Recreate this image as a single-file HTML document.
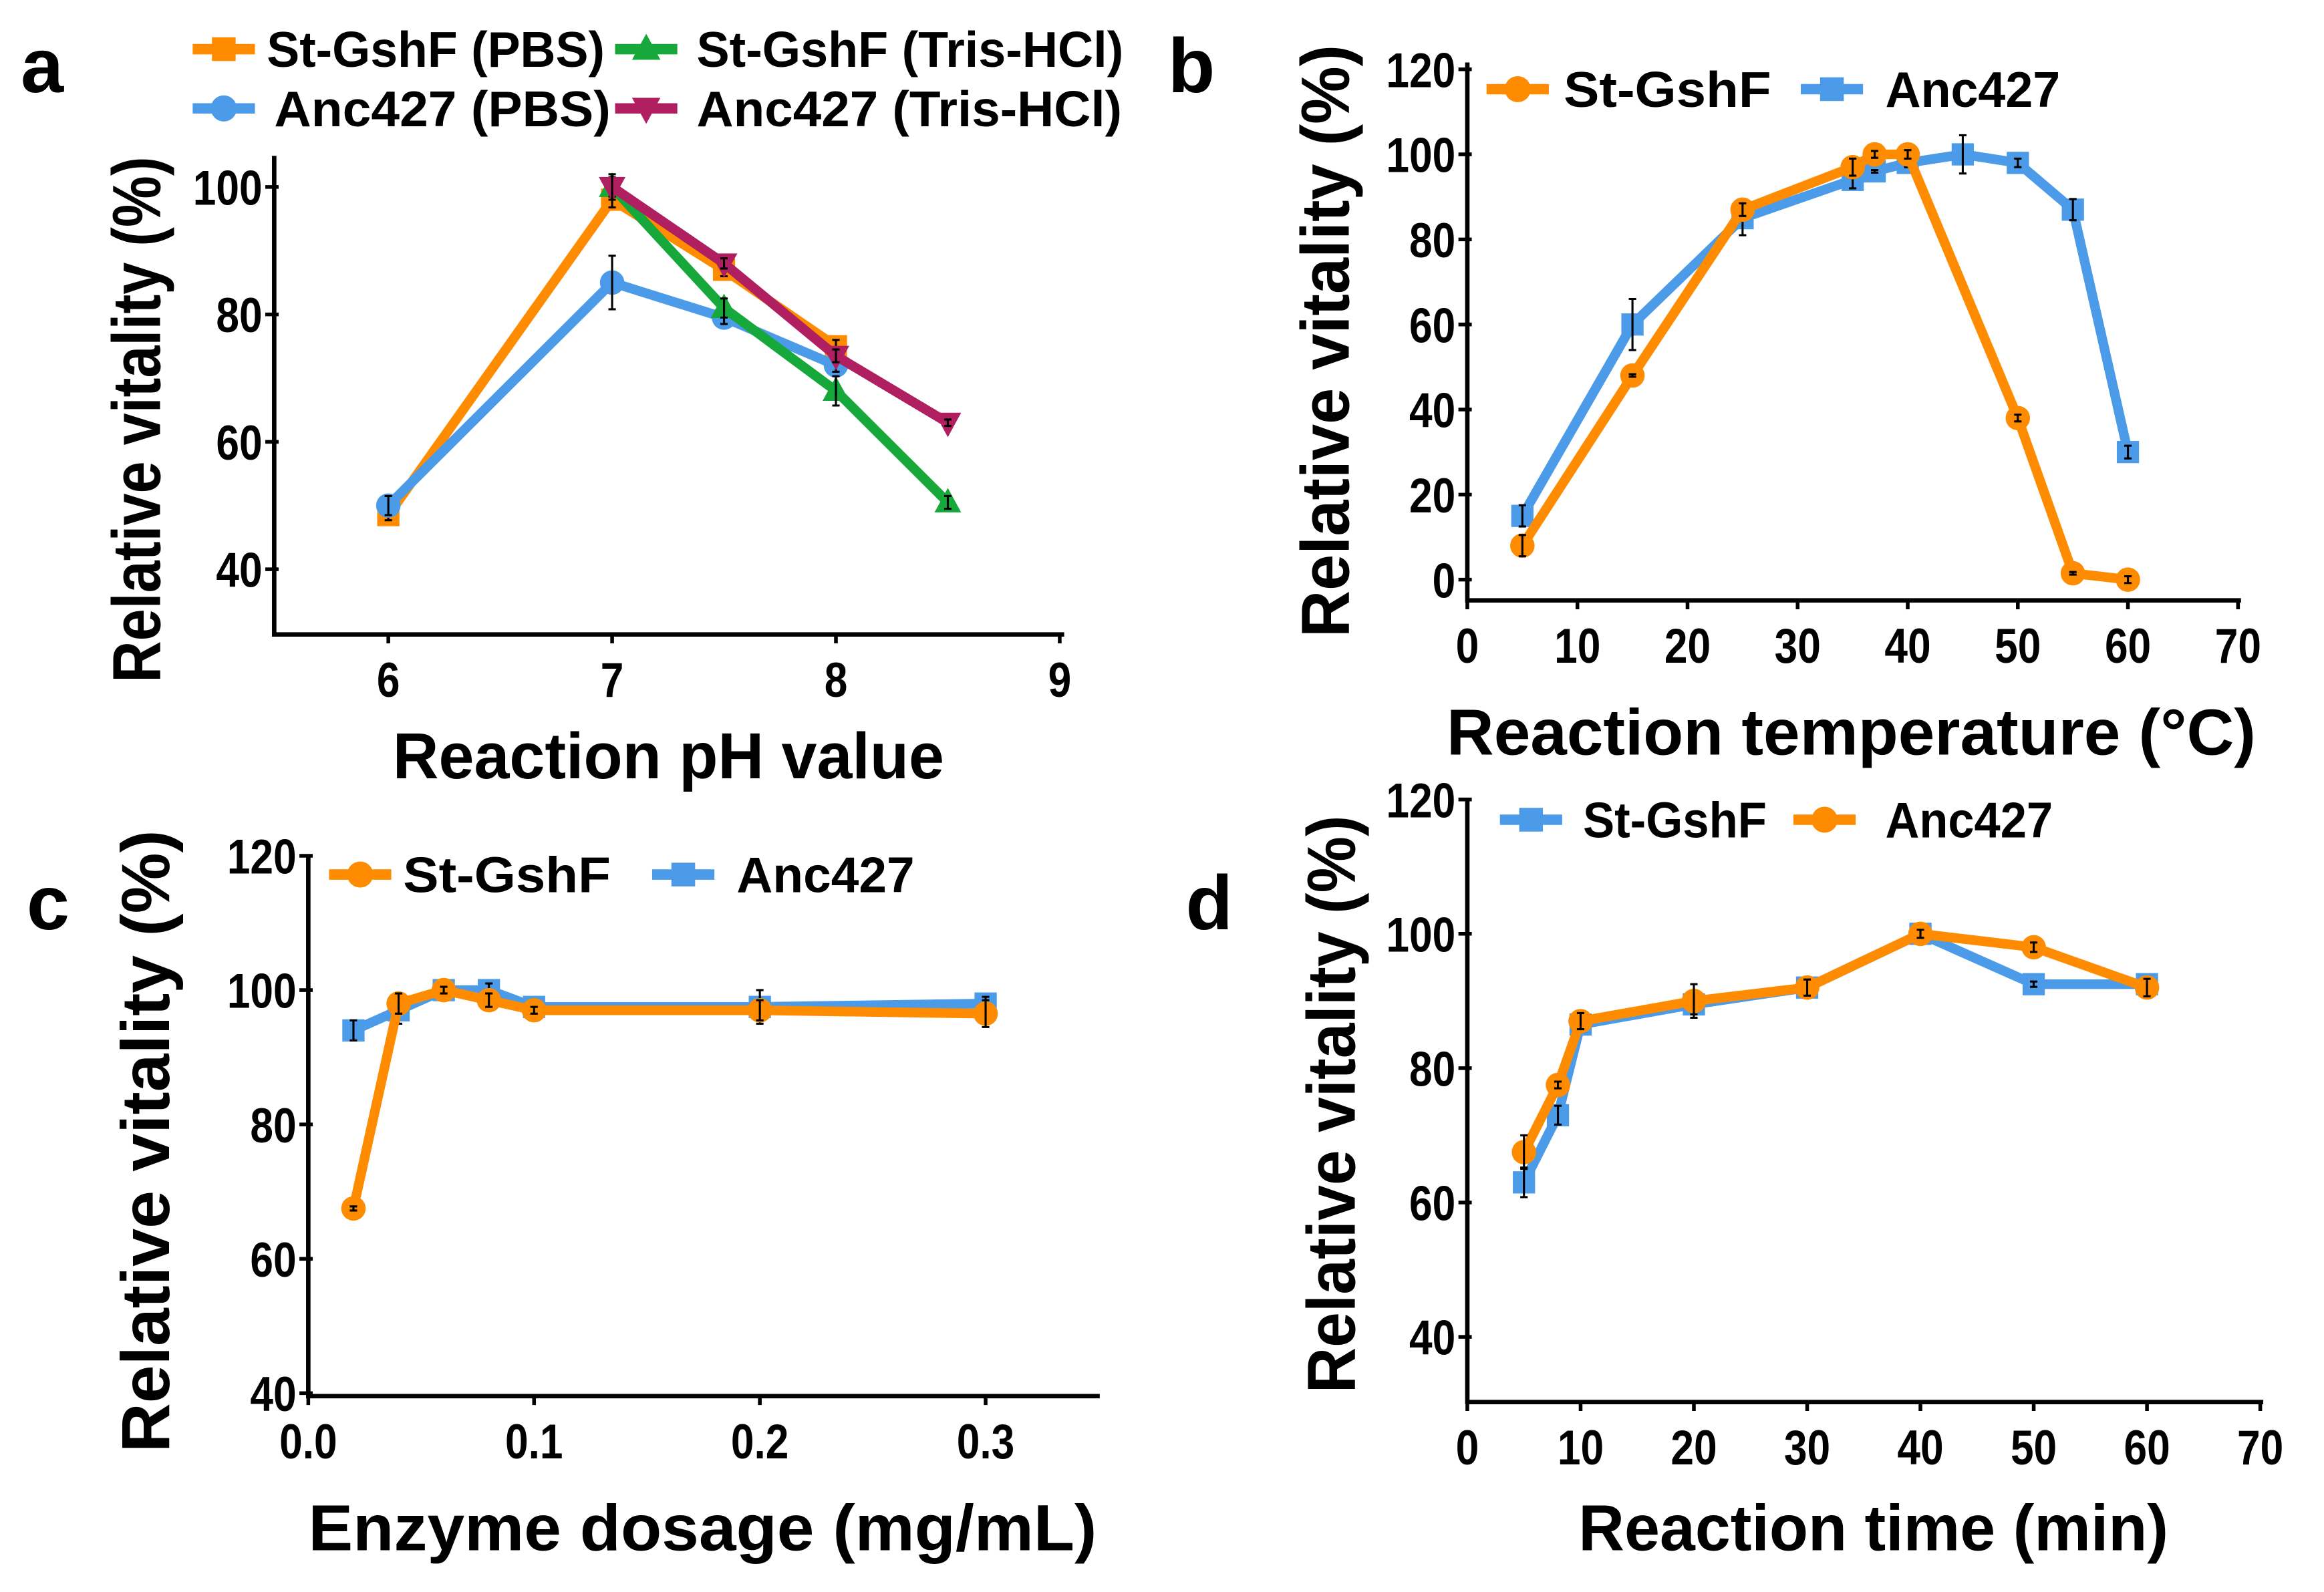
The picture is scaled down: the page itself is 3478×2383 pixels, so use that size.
<!DOCTYPE html>
<html><head><meta charset="utf-8"><style>
html,body{margin:0;padding:0;background:#fff}
svg{display:block}
text{font-family:"Liberation Sans",Arial,sans-serif;font-weight:bold;fill:#000}
</style></head><body>
<svg id="fig" xmlns="http://www.w3.org/2000/svg" width="3478" height="2383" viewBox="0 0 1568 1074">
<rect width="1568" height="1074" fill="#fff"/>
</svg>
<script>
// ---------- Panel a data ----------
const aX_PbsSt = [6, 7, 7.5, 8];
const aY_PbsSt = [48.5, 98, 87, 75];
const aE_PbsSt = [0.8, 1.2, 1, 1];
const aX_TrisSt = [7, 7.5, 8, 8.5];
const aY_TrisSt = [100, 81, 68, 50.5];
const aE_TrisSt = [1.5, 1.5, 2.3, 1];
const aX_PbsAnc = [6, 7, 7.5, 8];
const aY_PbsAnc = [50, 85, 79.5, 72];
const aE_PbsAnc = [1.5, 4.2, 1, 1];
const aX_TrisAnc = [7, 7.5, 8, 8.5];
const aY_TrisAnc = [100, 88, 73.5, 63];
const aE_TrisAnc = [2, 0.8, 1, 0.5];
const aXTicks = [6, 7, 8, 9];
const aYTicks = [40, 60, 80, 100];
// ---------- Panel b data ----------
const bX_St = [5, 15, 25, 35, 37, 40, 50, 55, 60];
const bY_St = [8, 48, 87, 97, 100, 100, 38, 1.5, 0];
const bE_St = [2.5, 0.3, 1.5, 2, 0.8, 1, 0.8, 0.3, 0.8];
const bX_Anc = [5, 15, 25, 35, 37, 40, 45, 50, 55, 60];
const bY_Anc = [15, 60, 85, 94, 96, 98, 100, 98, 87, 30];
const bE_Anc = [2.5, 6, 4, 2, 0.3, 1, 4.5, 1, 2.5, 1.5];
const bXTicks = [0, 10, 20, 30, 40, 50, 60, 70];
const bYTicks = [0, 20, 40, 60, 80, 100, 120];
// ---------- Panel c data ----------
const cX = [0.02, 0.04, 0.06, 0.08, 0.1, 0.2, 0.3];
const cY_St = [67.5, 98, 100, 98.5, 97, 97, 96.5];
const cE_St = [0.3, 1.5, 0.5, 1, 0.5, 1.5, 2];
const cY_Anc = [94, 97, 100, 100, 97.5, 97.5, 98];
const cE_Anc = [1.5, 2, 0.5, 1, 0.5, 2.5, 1];
const cXTicks = [0.0, 0.1, 0.2, 0.3];
const cXLabels = ["0.0", "0.1", "0.2", "0.3"];
const cYTicks = [40, 60, 80, 100, 120];
// ---------- Panel d data ----------
const dX = [5, 8, 10, 20, 30, 40, 50, 60];
const dY_St = [63, 73, 86.5, 89.5, 92, 100, 92.5, 92.5];
const dE_St = [2.2, 1.4, 0.8, 1.5, 1.5, 0.5, 0.4, 1];
const dY_Anc = [67.5, 77.5, 87, 90, 92, 100, 98, 92];
const dE_Anc = [2.5, 0.5, 1.2, 2.5, 1.2, 0.6, 0.7, 1.3];
const dXTicks = [0, 10, 20, 30, 40, 50, 60, 70];
const dYTicks = [40, 60, 80, 100, 120];

const ORANGE = "#ff8c00", BLUE = "#4b9be8", GREEN = "#17a83c", MAROON = "#b01f5f";
const NS = "http://www.w3.org/2000/svg";
const svg = document.getElementById("fig");
function mk(tag, attrs, parent) {
  const e = document.createElementNS(NS, tag);
  for (const k in attrs) e.setAttribute(k, attrs[k]);
  (parent || svg).appendChild(e);
  return e;
}
function scale(d0, d1, r0, r1) { return v => r0 + (v - d0) / (d1 - d0) * (r1 - r0); }

function marker(g, shape, x, y, color, s) {
  let m;
  if (shape === "square") m = mk("rect", {x: x - s, y: y - s, width: 2 * s, height: 2 * s, fill: color}, g);
  else if (shape === "circle") m = mk("circle", {cx: x, cy: y, r: s * 1.1, fill: color}, g);
  else if (shape === "up") m = mk("polygon", {points: `${x},${y - s * 1.3} ${x - s * 1.2},${y + s * 0.9} ${x + s * 1.2},${y + s * 0.9}`, fill: color}, g);
  else m = mk("polygon", {points: `${x},${y + s * 1.3} ${x - s * 1.2},${y - s * 0.9} ${x + s * 1.2},${y - s * 0.9}`, fill: color}, g);
  
  
}

function series(name, xs, ys, es, sx, sy, color, shape) {
  const g = mk("g", {});
  
  
  const pts = xs.map((x, i) => sx(x) + "," + sy(ys[i])).join(" ");
  const pl = mk("polyline", {points: pts, fill: "none", stroke: color, "stroke-width": 6.5, "stroke-linejoin": "round"}, g);
  
  
  xs.forEach((x, i) => marker(g, shape, sx(x), sy(ys[i]), color, 7.5));
  xs.forEach((x, i) => {
    const cx = sx(x), y1 = sy(ys[i] - es[i]), y2 = sy(ys[i] + es[i]);
    const eb = mk("path", {d: `M${cx},${y1}V${y2}M${cx - 2.5},${y1}h5M${cx - 2.5},${y2}h5`, stroke: "#000", "stroke-width": 1.4, fill: "none"}, g);
    
    
  });
}

function axes(p) {
  const g = mk("g", {});
  
  
  mk("path", {d: `M${p.l},${p.t}V${p.b}H${p.r}`, stroke: "#000", "stroke-width": 3, fill: "none"}, g);
  p.xt.forEach((v, i) => {
    const x = p.sx(v);
    mk("line", {x1: x, y1: p.b, x2: x, y2: p.b + 6, stroke: "#000", "stroke-width": 2.5}, g);
    const t = mk("text", {x: x, y: p.b + 42, "text-anchor": "middle", "font-size": 33, transform: `translate(${x},0) scale(0.85,1) translate(${-x},0)`}, g);
    t.textContent = p.xl ? p.xl[i] : v;
    
    
  });
  p.yt.forEach(v => {
    const y = p.sy(v);
    mk("line", {x1: p.l - 6, y1: y, x2: p.l + 3, y2: y, stroke: "#000", "stroke-width": 2.5}, g);
    const tx = p.l - 8;
    const t = mk("text", {x: tx, y: y + 12, "text-anchor": "end", "font-size": 33, transform: `translate(${tx},0) scale(0.85,1) translate(${-tx},0)`}, g);
    t.textContent = v;
    
    
  });
  const xt = mk("text", {x: p.xtx, y: p.xty, "text-anchor": "middle", "font-size": 44, textLength: p.xtlen, lengthAdjust: "spacingAndGlyphs"}, g);
  xt.textContent = p.xtitle;
  
  
  const yt = mk("text", {x: 0, y: 0, "text-anchor": "middle", "font-size": 46, transform: `translate(${p.ytx},${p.yty}) rotate(-90)`, textLength: p.ytlen, lengthAdjust: "spacingAndGlyphs"}, g);
  yt.textContent = p.ytitle;
  
  
  const lt = mk("text", {x: p.lx, y: p.ly, "font-size": 52}, g);
  lt.textContent = p.id;
  
  
}

function legend(x, y, color, shape, label, tx, tlen) {
  const g = mk("g", {});
  
  
  mk("line", {x1: x, y1: y, x2: x + 42, y2: y, stroke: color, "stroke-width": 7}, g);
  marker(g, shape, x + 21, y, color, 8);
  const t = mk("text", {x: tx, y: y + 12, "font-size": 34, textLength: tlen, lengthAdjust: "spacingAndGlyphs"}, g);
  t.textContent = label;
}

// Panel a
const aSx = scale(6, 9, 262, 715), aSy = scale(40, 100, 384, 126);
axes({id: "a", l: 185, t: 105, b: 428, r: 718, sx: aSx, sy: aSy, xt: aXTicks, yt: aYTicks,
  xtitle: "Reaction pH value", xtx: 451, xty: 525, xtlen: 372, ytitle: "Relative vitality (%)", ytx: 108, yty: 283, ytlen: 355, lx: 14, ly: 62});
series("st-gshf-pbs", aX_PbsSt, aY_PbsSt, aE_PbsSt, aSx, aSy, ORANGE, "square");
series("anc427-pbs", aX_PbsAnc, aY_PbsAnc, aE_PbsAnc, aSx, aSy, BLUE, "circle");
series("st-gshf-tris", aX_TrisSt, aY_TrisSt, aE_TrisSt, aSx, aSy, GREEN, "up");
series("anc427-tris", aX_TrisAnc, aY_TrisAnc, aE_TrisAnc, aSx, aSy, MAROON, "down");
legend(130, 33, ORANGE, "square", "St-GshF (PBS)", 180, 228);
legend(415, 33, GREEN, "up", "St-GshF (Tris-HCl)", 470, 288);
legend(130, 73, BLUE, "circle", "Anc427  (PBS)", 185, 227);
legend(415, 73, MAROON, "down", "Anc427  (Tris-HCl)", 470, 287);

// Panel b
const bSx = scale(0, 70, 990, 1510), bSy = scale(0, 100, 391, 104);
axes({id: "b", l: 990, t: 42, b: 405, r: 1512, sx: bSx, sy: bSy, xt: bXTicks, yt: bYTicks,
  xtitle: "Reaction temperature (°C)", xtx: 1249, xty: 509, xtlen: 546, ytitle: "Relative vitality (%)", ytx: 910, yty: 230, ytlen: 400, lx: 788, ly: 62});
series("anc427-temp", bX_Anc, bY_Anc, bE_Anc, bSx, bSy, BLUE, "square");
series("st-gshf-temp", bX_St, bY_St, bE_St, bSx, bSy, ORANGE, "circle");
legend(1003, 60, ORANGE, "circle", "St-GshF", 1055, 140);
legend(1215, 60, BLUE, "square", "Anc427", 1272, 118);

// Panel c
const cSx = scale(0, 0.3, 208, 665), cSy = scale(40, 100, 940, 668);
axes({id: "c", l: 208, t: 578, b: 942, r: 742, sx: cSx, sy: cSy, xt: cXTicks, xl: cXLabels, yt: cYTicks,
  xtitle: "Enzyme dosage (mg/mL)", xtx: 474, xty: 1046, xtlen: 532, ytitle: "Relative  vitality (%)", ytx: 114, yty: 770, ytlen: 420, lx: 18, ly: 627});
series("anc427-dosage", cX, cY_Anc, cE_Anc, cSx, cSy, BLUE, "square");
series("st-gshf-dosage", cX, cY_St, cE_St, cSx, cSy, ORANGE, "circle");
legend(222, 590, ORANGE, "circle", "St-GshF", 272, 140);
legend(440, 590, BLUE, "square", "Anc427", 497, 120);

// Panel d
const dSx = scale(0, 70, 990, 1525), dSy = scale(40, 100, 902, 630);
axes({id: "d", l: 990, t: 540, b: 946, r: 1527, sx: dSx, sy: dSy, xt: dXTicks, yt: dYTicks,
  xtitle: "Reaction time (min)", xtx: 1264, xty: 1046, xtlen: 398, ytitle: "Relative  vitality (%)", ytx: 914, yty: 745, ytlen: 390, lx: 800, ly: 627});
series("st-gshf-time", dX, dY_St, dE_St, dSx, dSy, BLUE, "square");
series("anc427-time", dX, dY_Anc, dE_Anc, dSx, dSy, ORANGE, "circle");
legend(1012, 553, BLUE, "square", "St-GshF", 1068, 124);
legend(1210, 553, ORANGE, "circle", "Anc427", 1272, 113);
</script>
</body></html>
